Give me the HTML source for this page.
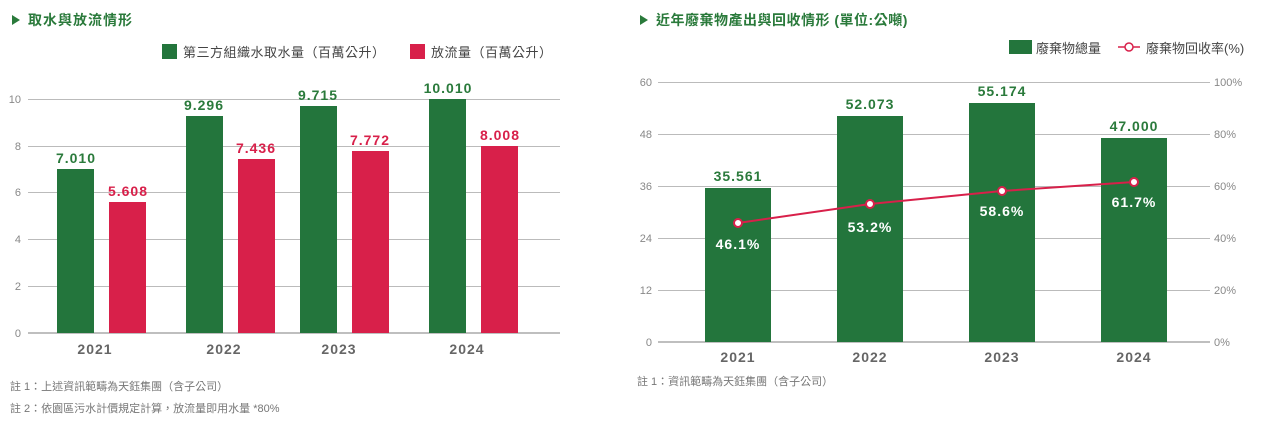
<!DOCTYPE html>
<html><head><meta charset="utf-8"><style>
html,body{margin:0;padding:0;background:#fff;width:1286px;height:426px;overflow:hidden}
svg{display:block}
text{font-family:"Liberation Sans","Noto Sans CJK TC",sans-serif}
.n{letter-spacing:1px}
</style></head><body>
<svg width="1286" height="426" xmlns="http://www.w3.org/2000/svg">
<!-- LEFT -->
<polygon points="12,15 12,25 20,20" fill="#2a7a3b"/>
<text x="28" y="25" font-size="14" font-weight="bold" fill="#2a7a3b" letter-spacing="1">取水與放流情形</text>
<rect x="162" y="44" width="15" height="15" fill="#23753c"/>
<text x="183" y="57" font-size="13" fill="#444" letter-spacing="0.5">第三方組織水取水量（百萬公升）</text>
<rect x="410" y="44" width="15" height="15" fill="#d8204a"/>
<text x="431" y="57" font-size="13" fill="#444" letter-spacing="0.5">放流量（百萬公升）</text>
<g stroke="#bbb" stroke-width="1">
<line x1="28" y1="99.5" x2="560" y2="99.5"/><line x1="28" y1="146.5" x2="560" y2="146.5"/>
<line x1="28" y1="192.5" x2="560" y2="192.5"/><line x1="28" y1="239.5" x2="560" y2="239.5"/>
<line x1="28" y1="286.5" x2="560" y2="286.5"/><line x1="28" y1="333" x2="560" y2="333" stroke="#aaa" stroke-width="1.5"/>
</g>
<g font-size="11" fill="#888" text-anchor="end">
<text x="21" y="103">10</text><text x="21" y="150">8</text><text x="21" y="196">6</text>
<text x="21" y="243">4</text><text x="21" y="290">2</text><text x="21" y="337">0</text>
</g>
<g fill="#23753c">
<rect x="57" y="169" width="37" height="164"/><rect x="186" y="116" width="37" height="217"/>
<rect x="300" y="106" width="37" height="227"/><rect x="429" y="99" width="37" height="234"/>
</g>
<g fill="#d8204a">
<rect x="109" y="202" width="37" height="131"/><rect x="238" y="159" width="37" height="174"/>
<rect x="352" y="151" width="37" height="182"/><rect x="481" y="146" width="37" height="187"/>
</g>
<g class="n" font-size="14" font-weight="bold" text-anchor="middle" fill="#2a7a3b">
<text x="76" y="163">7.010</text><text x="204" y="110">9.296</text><text x="318" y="100">9.715</text><text x="448" y="93">10.010</text>
</g>
<g class="n" font-size="14" font-weight="bold" text-anchor="middle" fill="#d8204a">
<text x="128" y="196">5.608</text><text x="256" y="153">7.436</text><text x="370" y="145">7.772</text><text x="500" y="140">8.008</text>
</g>
<g class="n" font-size="14" font-weight="bold" text-anchor="middle" fill="#666">
<text x="95" y="354">2021</text><text x="224" y="354">2022</text><text x="339" y="354">2023</text><text x="467" y="354">2024</text>
</g>
<text x="10" y="390" font-size="11" fill="#777">註 1：上述資訊範疇為天鈺集團（含子公司）</text>
<text x="10" y="412" font-size="11" fill="#777">註 2：依園區污水計價規定計算，放流量即用水量 *80%</text>

<!-- RIGHT -->
<polygon points="640,15 640,25 648,20" fill="#2a7a3b"/>
<text x="656" y="25" font-size="14" font-weight="bold" fill="#2a7a3b" letter-spacing="0.5">近年廢棄物產出與回收情形 (單位:公噸)</text>
<rect x="1009" y="40" width="23" height="14" fill="#23753c"/>
<text x="1036" y="53" font-size="13" fill="#444">廢棄物總量</text>
<line x1="1118" y1="47" x2="1140" y2="47" stroke="#d8204a" stroke-width="1.5"/>
<circle cx="1129" cy="47" r="4" fill="#fff" stroke="#d8204a" stroke-width="1.5"/>
<text x="1146" y="53" font-size="13" fill="#444">廢棄物回收率(%)</text>
<g stroke="#bbb" stroke-width="1">
<line x1="658" y1="82.5" x2="1210" y2="82.5"/><line x1="658" y1="134.5" x2="1210" y2="134.5"/>
<line x1="658" y1="186.5" x2="1210" y2="186.5"/><line x1="658" y1="238.5" x2="1210" y2="238.5"/>
<line x1="658" y1="290.5" x2="1210" y2="290.5"/><line x1="658" y1="342" x2="1210" y2="342" stroke="#aaa" stroke-width="1.5"/>
</g>
<g font-size="11" fill="#888" text-anchor="end">
<text x="652" y="86">60</text><text x="652" y="138">48</text><text x="652" y="190">36</text>
<text x="652" y="242">24</text><text x="652" y="294">12</text><text x="652" y="346">0</text>
</g>
<g font-size="11" fill="#888">
<text x="1214" y="86">100%</text><text x="1214" y="138">80%</text><text x="1214" y="190">60%</text>
<text x="1214" y="242">40%</text><text x="1214" y="294">20%</text><text x="1214" y="346">0%</text>
</g>
<g fill="#23753c">
<rect x="705" y="188" width="66" height="154"/><rect x="837" y="116" width="66" height="226"/>
<rect x="969" y="103" width="66" height="239"/><rect x="1101" y="138" width="66" height="204"/>
</g>
<g class="n" font-size="14" font-weight="bold" text-anchor="middle" fill="#2a7a3b">
<text x="738" y="181">35.561</text><text x="870" y="109">52.073</text><text x="1002" y="96">55.174</text><text x="1134" y="131">47.000</text>
</g>
<polyline points="738,223 870,204 1002,191 1134,182" fill="none" stroke="#d8204a" stroke-width="2"/>
<g fill="#fff" stroke="#d8204a" stroke-width="2">
<circle cx="738" cy="223" r="4"/><circle cx="870" cy="204" r="4"/><circle cx="1002" cy="191" r="4"/><circle cx="1134" cy="182" r="4"/>
</g>
<g class="n" font-size="14" font-weight="bold" text-anchor="middle" fill="#fff">
<text x="738" y="249">46.1%</text><text x="870" y="232">53.2%</text><text x="1002" y="216">58.6%</text><text x="1134" y="207">61.7%</text>
</g>
<g class="n" font-size="14" font-weight="bold" text-anchor="middle" fill="#666">
<text x="738" y="362">2021</text><text x="870" y="362">2022</text><text x="1002" y="362">2023</text><text x="1134" y="362">2024</text>
</g>
<text x="637" y="385" font-size="11" fill="#777">註 1：資訊範疇為天鈺集團（含子公司）</text>
</svg>
</body></html>
